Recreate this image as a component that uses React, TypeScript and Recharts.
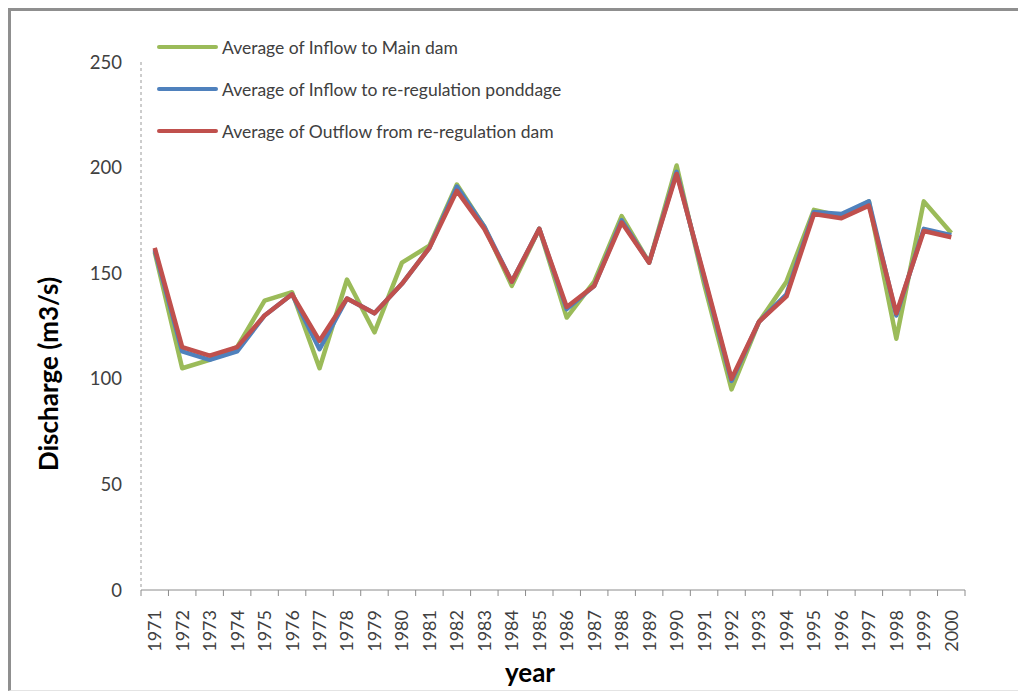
import { LineChart, Line, XAxis, YAxis, Legend } from "recharts";

const years = [
  1971, 1972, 1973, 1974, 1975, 1976, 1977, 1978, 1979, 1980,
  1981, 1982, 1983, 1984, 1985, 1986, 1987, 1988, 1989, 1990,
  1991, 1992, 1993, 1994, 1995, 1996, 1997, 1998, 1999, 2000,
];

// Average of Inflow to Main dam
const inflowMain = [
  160, 105, 109, 115, 137, 141, 105, 147, 122, 155,
  163, 192, 172, 144, 171, 129, 146, 177, 155, 201,
  145, 95, 127, 146, 180, 177, 184, 119, 184, 169,
];

// Average of Inflow to re-regulation ponddage
const inflowPond = [
  161, 113, 109, 113, 130, 140, 114, 138, 131, 145,
  162, 191, 172, 146, 171, 133, 144, 175, 155, 198,
  148, 99, 127, 140, 179, 178, 184, 130, 171, 168,
];

// Average of Outflow from re-regulation dam
const outflow = [
  162, 115, 111, 115, 130, 140, 118, 138, 131, 145,
  162, 189, 171, 146, 171, 134, 144, 174, 155, 197,
  149, 100, 127, 139, 178, 176, 182, 131, 170, 167,
];

const yTicks = [0, 50, 100, 150, 200, 250];
const xDomain = [1970.5, 2000.5];
const edgeTicks = [...years.map((y) => y - 0.5), 2000.5];

const data = years.map((year, i) => ({
  year,
  main: inflowMain[i],
  pond: inflowPond[i],
  out: outflow[i],
}));

const FONT = "Lato, 'Open Sans', sans-serif";

function YearTick({ x, y, payload }: any) {
  return (
    <g transform={`translate(${x},${y})`}>
      <text
        transform="rotate(-90)"
        x={0}
        y={0}
        dy="0.36em"
        textAnchor="end"
        fill="#404040"
        fontSize={18}
        fontFamily={FONT}
      >
        {payload.value}
      </text>
    </g>
  );
}

function LegendBox({ payload }: any) {
  return (
    <div style={{ fontFamily: FONT }}>
      {(payload || []).map((entry: any) => (
        <div
          key={entry.value}
          style={{ display: "flex", alignItems: "center", height: 42 }}
        >
          <span
            style={{
              display: "inline-block",
              width: 61,
              height: 4.5,
              borderRadius: 2,
              background: entry.color,
            }}
          />
          <span style={{ marginLeft: 4, fontSize: 17.5, color: "#404040" }}>
            {entry.value}
          </span>
        </div>
      ))}
    </div>
  );
}

export default function App() {
  return (
    <div
      style={{
        position: "relative",
        width: 1018,
        height: 683,
        boxSizing: "border-box",
        borderTop: "3px solid #8f8f8f",
        borderLeft: "3px solid #8f8f8f",
        borderBottom: "1px solid #e4e4e4",
        background: "#fff",
      }}
    >
      <LineChart
        width={1012}
        height={678}
        data={data}
        margin={{ top: 51, right: 58, bottom: 0, left: 10 }}
      >
        <XAxis
          xAxisId="edges"
          dataKey="year"
          type="number"
          domain={xDomain}
          ticks={edgeTicks}
          interval={0}
          height={6}
          tickSize={6}
          tick={() => <g />}
          axisLine={{ stroke: "#8c8c8c" }}
          tickLine={{ stroke: "#8c8c8c" }}
        />
        <XAxis
          xAxisId="years"
          dataKey="year"
          type="number"
          domain={xDomain}
          ticks={years}
          interval={0}
          height={93}
          tickSize={0}
          tickMargin={14}
          axisLine={false}
          tickLine={false}
          tick={<YearTick />}
          label={({ viewBox }: any) => (
            <text
              x={viewBox.x + viewBox.width / 2 - 23}
              y={viewBox.y + viewBox.height - 7}
              textAnchor="middle"
              fontFamily={FONT}
              fontWeight="bold"
              fontSize={26}
              fill="#000"
            >
              year
            </text>
          )}
        />
        <YAxis
          domain={[0, 250]}
          ticks={yTicks}
          width={120}
          tickSize={0}
          tickMargin={19}
          tickLine={false}
          axisLine={{ stroke: "#9a9a9a", strokeDasharray: "3 3" }}
          tick={{ fill: "#404040", fontSize: 18.5, fontFamily: FONT }}
          label={({ viewBox }: any) => {
            const cx = viewBox.x + 27;
            const cy = viewBox.y + viewBox.height / 2 + 48;
            return (
              <text
                x={cx}
                y={cy}
                transform={`rotate(-90, ${cx}, ${cy})`}
                textAnchor="middle"
                dominantBaseline="central"
                fontFamily={FONT}
                fontWeight="bold"
                fontSize={26}
                fill="#000"
              >
                Discharge (m3/s)
              </text>
            );
          }}
        />
        <Legend
          layout="vertical"
          align="center"
          verticalAlign="middle"
          content={<LegendBox />}
          wrapperStyle={{ top: 15, left: 146, width: "auto" }}
        />
        <Line
          xAxisId="years"
          type="linear"
          dataKey="main"
          name="Average of Inflow to Main dam"
          stroke="#9BBB59"
          strokeWidth={4.5}
          strokeLinejoin="round"
          dot={false}
          isAnimationActive={false}
        />
        <Line
          xAxisId="years"
          type="linear"
          dataKey="pond"
          name="Average of Inflow to re-regulation ponddage"
          stroke="#4F81BD"
          strokeWidth={4.5}
          strokeLinejoin="round"
          dot={false}
          isAnimationActive={false}
        />
        <Line
          xAxisId="years"
          type="linear"
          dataKey="out"
          name="Average of Outflow from re-regulation dam"
          stroke="#C0504D"
          strokeWidth={4.5}
          strokeLinejoin="round"
          dot={false}
          isAnimationActive={false}
        />
      </LineChart>
    </div>
  );
}
